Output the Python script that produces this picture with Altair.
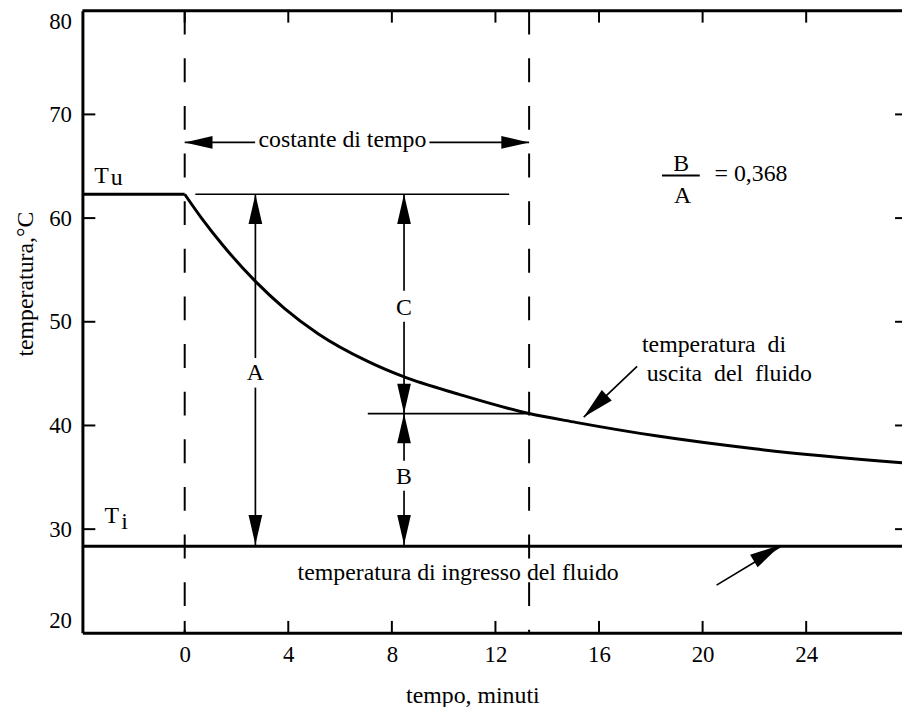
import altair as alt
import pandas as pd

# ---------------- data ----------------
x_min, x_max = -3.95, 27.7
y_min, y_max = 20, 80
x_tick_values = [0, 4, 8, 12, 16, 20, 24]
y_tick_values = [20, 30, 40, 50, 60, 70, 80]
y_inner_ticks = [30, 40, 50, 60, 70]

T_u = 62.3      # temperatura di uscita iniziale
T_i = 28.35     # temperatura di ingresso del fluido
tau = 13.3      # costante di tempo, minuti
T_tau = 41.15   # temperatura dopo una costante di tempo
t_A = 2.73
t_C = 8.47
T_arrow = 67.3  # livello della freccia "costante di tempo"

curve_t = [0, 0.65, 1.45, 2.75, 3.85, 5.15, 7.05, 8.45, 10.6, 13.3, 15.1, 18.2, 22.0, 27.7]
curve_T = [62.3, 60.0, 57.45, 53.85, 51.3, 48.85, 46.2, 44.7, 43.0, 41.15, 40.3, 39.0, 37.75, 36.4]

# thin annotation segments (start t, start T, end t, end T)
seg_t1 = [0.41, 7.07, 0, 9.45, t_A, t_A, t_C, t_C, t_C, t_C, 17.47, 20.54]
seg_T1 = [T_u, T_tau, T_arrow, T_arrow, T_u, 43.65, T_u, 50.0, T_tau, 33.7, 45.69, 24.6]
seg_t2 = [12.53, tau, 2.72, tau, t_A, t_A, t_C, t_C, t_C, t_C, 15.41, 23.03]
seg_T2 = [T_u, T_tau, T_arrow, T_arrow, 46.5, T_i, 53.0, T_tau, 36.6, T_i, 40.81, T_i]

# thick lines
thick_t1 = [x_min, x_min, x_min]
thick_T1 = [T_u, T_i, y_max]
thick_t2 = [0, x_max, x_max]
thick_T2 = [T_u, T_i, y_max]

dashed_t = [0, tau]

frac_t1, frac_t2, frac_T = 18.43, 19.89, 64.1

# arrow heads (tip positions)
head_left = ([0], [T_arrow])
head_right = ([tau], [T_arrow])
head_up = ([t_A, t_C, t_C], [T_u, T_u, T_tau])
head_down = ([t_A, t_C, t_C], [T_i + 0.15, T_tau, T_i + 0.15])
head_uscita = ([15.41], [40.81])
head_ingresso = ([23.03], [T_i + 0.15])

# texts
center_texts = ["costante di tempo", "A", "C", "B", "B", "A",
                "temperatura di ingresso del fluido"]
center_t = [6.09, t_A, t_C, t_C, 19.17, 19.23, 10.56]
center_T = [66.9, 44.42, 50.64, 34.37, 64.52, 61.46, 25.09]

left_texts = ["T", "T", "= 0,368", "temperatura\u00a0\u00a0di",
              "uscita\u00a0\u00a0del\u00a0\u00a0fluido"]
left_t = [-3.49, -3.1, 20.46, 17.66, 17.84]
left_T = [63.35, 30.55, 63.56, 47.13, 44.31]

sub_texts = ["u", "i"]
sub_t = [-2.86, -2.45]
sub_T = [63.2, 29.97]

# ---------------- chart ----------------
FONT = "Liberation Serif"
W, H = 826, 627
ARROW = "M0,0L-1,-0.23L-1,0.23Z"

xs = alt.Scale(domain=[x_min, x_max], nice=False, zero=False)
ys = alt.Scale(domain=[y_min, y_max], nice=False, zero=False)

x_axis = alt.Axis(values=x_tick_values, ticks=False, grid=False, labelPadding=11,
                  labelFont=FONT, labelFontSize=23, labelColor="black",
                  labelFlush=False, domainColor="black", domainWidth=3,
                  title="tempo, minuti", titleFont=FONT, titleFontSize=24,
                  titleFontWeight="normal", titleColor="black",
                  titleX=393, titleY=70, titleBaseline="alphabetic",
                  titleAlign="center")
y_axis = alt.Axis(values=y_tick_values, ticks=False, grid=False, labelPadding=11,
                  labelFont=FONT, labelFontSize=23, labelColor="black",
                  labelFlush=True, domainColor="black", domainWidth=3,
                  title="temperatura,°C", titleFont=FONT, titleFontSize=24,
                  titleFontWeight="normal", titleColor="black", titleAngle=270,
                  titleX=-50, titleY=202, titleBaseline="alphabetic",
                  titleAlign="right")


def X(f):
    return alt.X(f"{f}:Q", scale=xs, axis=x_axis)


def Y(f):
    return alt.Y(f"{f}:Q", scale=ys, axis=y_axis)


def segs(t1, T1, t2, T2, width, dash=None):
    df = pd.DataFrame({"t": t1, "T": T1, "t2": t2, "T2": T2})
    kw = dict(color="black", strokeWidth=width)
    if dash:
        kw["strokeDash"] = dash
    return alt.Chart(df).mark_rule(**kw).encode(
        x=X("t"), y=Y("T"), x2=alt.X2("t2:Q"), y2=alt.Y2("T2:Q"))


def heads(pos, angle, length):
    df = pd.DataFrame({"t": pos[0], "T": pos[1]})
    return alt.Chart(df).mark_point(shape=ARROW, filled=True, color="black",
                                    opacity=1, strokeWidth=0, angle=angle,
                                    size=(2 * length) ** 2).encode(x=X("t"), y=Y("T"))


def texts(txt, t, T, align, size=24, dy=0):
    df = pd.DataFrame({"label": txt, "t": t, "T": T})
    return alt.Chart(df).mark_text(font=FONT, fontSize=size, color="black",
                                   align=align, baseline="alphabetic", dy=dy).encode(
        x=X("t"), y=Y("T"), text="label:N")


curve = alt.Chart(pd.DataFrame({"t": curve_t, "T": curve_T})).mark_line(
    color="black", strokeWidth=3, interpolate="monotone").encode(x=X("t"), y=Y("T"))

dashed = alt.Chart(pd.DataFrame({"t": dashed_t, "T": [y_max] * 2, "T2": [y_min] * 2})).mark_rule(
    color="black", strokeWidth=2, strokeDash=[24, 24]).encode(
    x=X("t"), y=Y("T"), y2=alt.Y2("T2:Q"))

left_ticks = alt.Chart(pd.DataFrame({"v": y_inner_ticks})).mark_rule(
    color="black", strokeWidth=2).encode(y=Y("v"), x=alt.value(0), x2=alt.value(13))
right_ticks = alt.Chart(pd.DataFrame({"v": y_inner_ticks})).mark_rule(
    color="black", strokeWidth=2).encode(y=Y("v"), x=alt.value(W - 7), x2=alt.value(W))
bottom_ticks = alt.Chart(pd.DataFrame({"v": x_tick_values})).mark_rule(
    color="black", strokeWidth=2).encode(x=X("v"), y=alt.value(H), y2=alt.value(H - 12))
top_ticks = alt.Chart(pd.DataFrame({"v": x_tick_values})).mark_rule(
    color="black", strokeWidth=2).encode(x=X("v"), y=alt.value(0), y2=alt.value(12))

chart = alt.layer(
    dashed,
    segs(seg_t1, seg_T1, seg_t2, seg_T2, 1.7),
    segs([frac_t1], [frac_T], [frac_t2], [frac_T], 2),
    segs(thick_t1, thick_T1, thick_t2, thick_T2, 3),
    curve,
    left_ticks, right_ticks, bottom_ticks, top_ticks,
    heads(head_left, 180, 28),
    heads(head_right, 0, 28),
    heads(head_up, 270, 30),
    heads(head_down, 90, 30),
    heads(head_uscita, 136.5, 32),
    heads(head_ingresso, 329, 32),
    texts(center_texts, center_t, center_T, "center"),
    texts(left_texts, left_t, left_T, "left"),
    texts(sub_texts, sub_t, sub_T, "left"),
).properties(
    width=W, height=H,
    padding={"left": 75, "top": 0, "right": 0, "bottom": 72},
    autosize=alt.AutoSizeParams(type="none"),
    background="white",
).configure_view(stroke=None)

chart.save("out.html", embed_options={"renderer": "svg", "actions": False})
